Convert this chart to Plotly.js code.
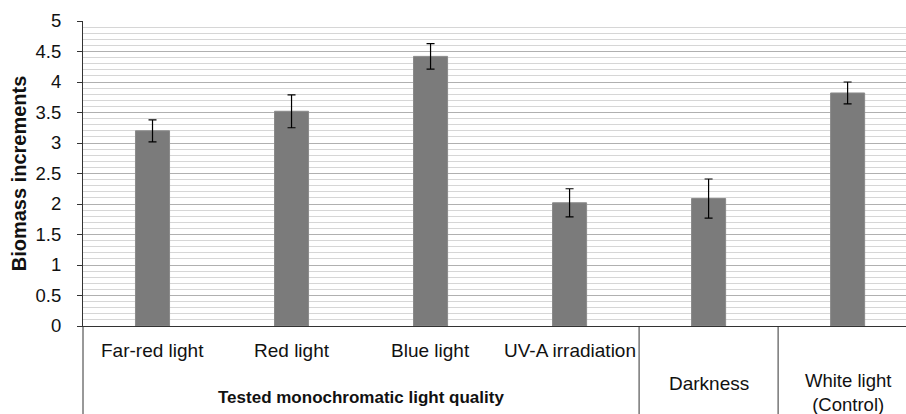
<!DOCTYPE html>
<html>
<head>
<meta charset="utf-8">
<script src="https://cdn.plot.ly/plotly-3.0.1.min.js"></script>
<style>html,body{margin:0;padding:0;background:#fff;overflow:hidden}</style>
</head>
<body>
<div id="chart" style="width:906px;height:414px"></div>
<script>
var categories = ['Far-red light', 'Red light', 'Blue light', 'UV-A irradiation', 'Darkness', 'White light<br>(Control)'];
var values = [3.2, 3.52, 4.42, 2.02, 2.09, 3.82];
var errors = [0.18, 0.27, 0.21, 0.23, 0.32, 0.18];
var groupLabel = 'Tested monochromatic light quality';
var groupMembers = 4; // first four categories share the group label
var yTitle = 'Biomass increments';

var xRange = [-0.5, 5.42];
var span = xRange[1] - xRange[0];
function px(v) { return (v - xRange[0]) / span; }

var idx = categories.map(function (c, i) { return i; });
var bottomDepth = -88 / 305;
var fam = 'Liberation Sans, Arial, sans-serif';

var annotations = [];
var font = {family: fam, size: 19, color: '#111'};
idx.forEach(function (i) {
  var inGroup = i < groupMembers;
  var twoLine = categories[i].indexOf('<br>') >= 0;
  annotations.push({
    x: i, xref: 'x', y: 0, yref: 'paper',
    text: categories[i], showarrow: false,
    yanchor: 'middle', xanchor: 'center',
    yshift: inGroup ? -24 : (twoLine ? -66 : -57),
    font: twoLine ? {family: fam, size: 18.5, color: '#111'} : font
  });
});
annotations.push({
  x: (groupMembers - 1) / 2, xref: 'x', y: 0, yref: 'paper',
  text: '<b>' + groupLabel + '</b>', showarrow: false,
  yanchor: 'middle', xanchor: 'center', yshift: -71,
  font: {family: fam, size: 17, color: '#111'}
});

var dividers = [0, groupMembers, groupMembers + 1];
var shapes = dividers.map(function (d) {
  return {
    type: 'line', xref: 'paper', yref: 'paper',
    x0: px(d - 0.5), x1: px(d - 0.5), y0: 0, y1: bottomDepth,
    line: {color: '#333', width: 1}
  };
});

var trace = {
  type: 'bar',
  x: idx,
  y: values,
  marker: {color: '#7b7b7b', line: {color: '#8a8a8a', width: 1}},
  error_y: {type: 'data', array: errors, visible: true, color: '#000', thickness: 1.2, width: 4},
  hoverinfo: 'none'
};

var layout = {
  width: 906, height: 414,
  margin: {l: 83, r: 0, t: 21, b: 88},
  paper_bgcolor: '#fff', plot_bgcolor: '#fff',
  bargap: 0.755,
  showlegend: false,
  xaxis: {
    range: xRange, showticklabels: false, ticks: '',
    showgrid: false, zeroline: false,
    showline: true, linecolor: '#333', linewidth: 1
  },
  yaxis: {
    range: [0, 5], dtick: 0.5, tick0: 0,
    showline: true, linecolor: '#333', linewidth: 1,
    ticks: 'outside', ticklen: 5, tickcolor: '#333',
    ticklabelstandoff: 12,
    gridcolor: '#b0b0b0', gridwidth: 1,
    zeroline: false,
    minor: {dtick: 0.1, showgrid: true, gridcolor: '#d6d6d6', gridwidth: 1, ticks: ''},
    tickfont: {family: fam, size: 18.5, color: '#111'},
    title: {text: '<b>' + yTitle + '</b>', standoff: 3,
      font: {family: fam, size: 20, color: '#111'}}
  },
  annotations: annotations,
  shapes: shapes
};

Plotly.newPlot('chart', [trace], layout, {staticPlot: true, displayModeBar: false});
</script>
</body>
</html>
